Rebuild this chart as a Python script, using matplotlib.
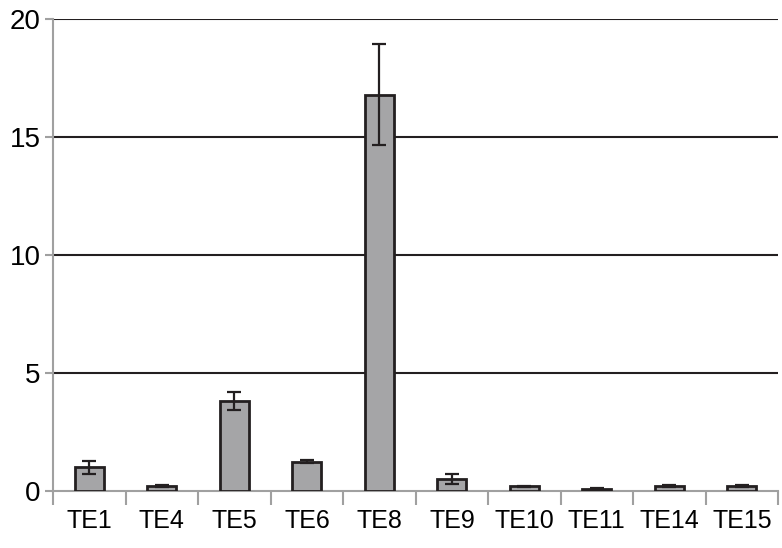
import matplotlib
matplotlib.use('Agg')
import matplotlib.pyplot as plt
import numpy as np

# donnees
labels = ['TE1', 'TE4', 'TE5', 'TE6', 'TE8', 'TE9', 'TE10', 'TE11', 'TE14', 'TE15']
valeurs = [1.0, 0.2, 3.82, 1.25, 16.8, 0.5, 0.2, 0.1, 0.2, 0.2]
erreurs = [0.28, 0.04, 0.38, 0.05, 2.15, 0.22, 0.02, 0.01, 0.05, 0.05]
yticks = [0, 5, 10, 15, 20]

plt.rcParams['font.family'] = ['Liberation Sans', 'DejaVu Sans']

fig = plt.figure(figsize=(7.82, 5.48), dpi=100)
ax = fig.add_axes([0.068, 0.104, 0.927, 0.861])

x = np.arange(len(labels))
ax.bar(x, valeurs, width=0.4, color='#a5a5a7', edgecolor='#231f20', linewidth=2, zorder=3)
ax.errorbar(x, valeurs, yerr=erreurs, fmt='none', ecolor='#231f20', elinewidth=1.6,
            capsize=5, capthick=1.6, zorder=4)

ax.set_xlim(-0.5, len(labels) - 0.5)
ax.set_ylim(0, 20)
ax.set_yticks(yticks)
for v in yticks[1:]:
    ax.axhline(v, color='#231f20', linewidth=1.5, zorder=1)

ax.set_xticks(x)
ax.set_xticklabels(labels)
ax.set_xticks(np.arange(-0.5, len(labels), 1), minor=True)
ax.tick_params(axis='x', which='major', length=0, labelsize=18, pad=13)
ax.tick_params(axis='x', which='minor', length=10, color='#a0a0a0', width=1.5, direction='out')
ax.tick_params(axis='y', length=6, color='#a0a0a0', width=1.5, labelsize=20, pad=3)

for s in ['top', 'right']:
    ax.spines[s].set_visible(False)
for s in ['left', 'bottom']:
    ax.spines[s].set_color('#a0a0a0')
    ax.spines[s].set_linewidth(1.5)

plt.savefig('out.png', dpi=100)
